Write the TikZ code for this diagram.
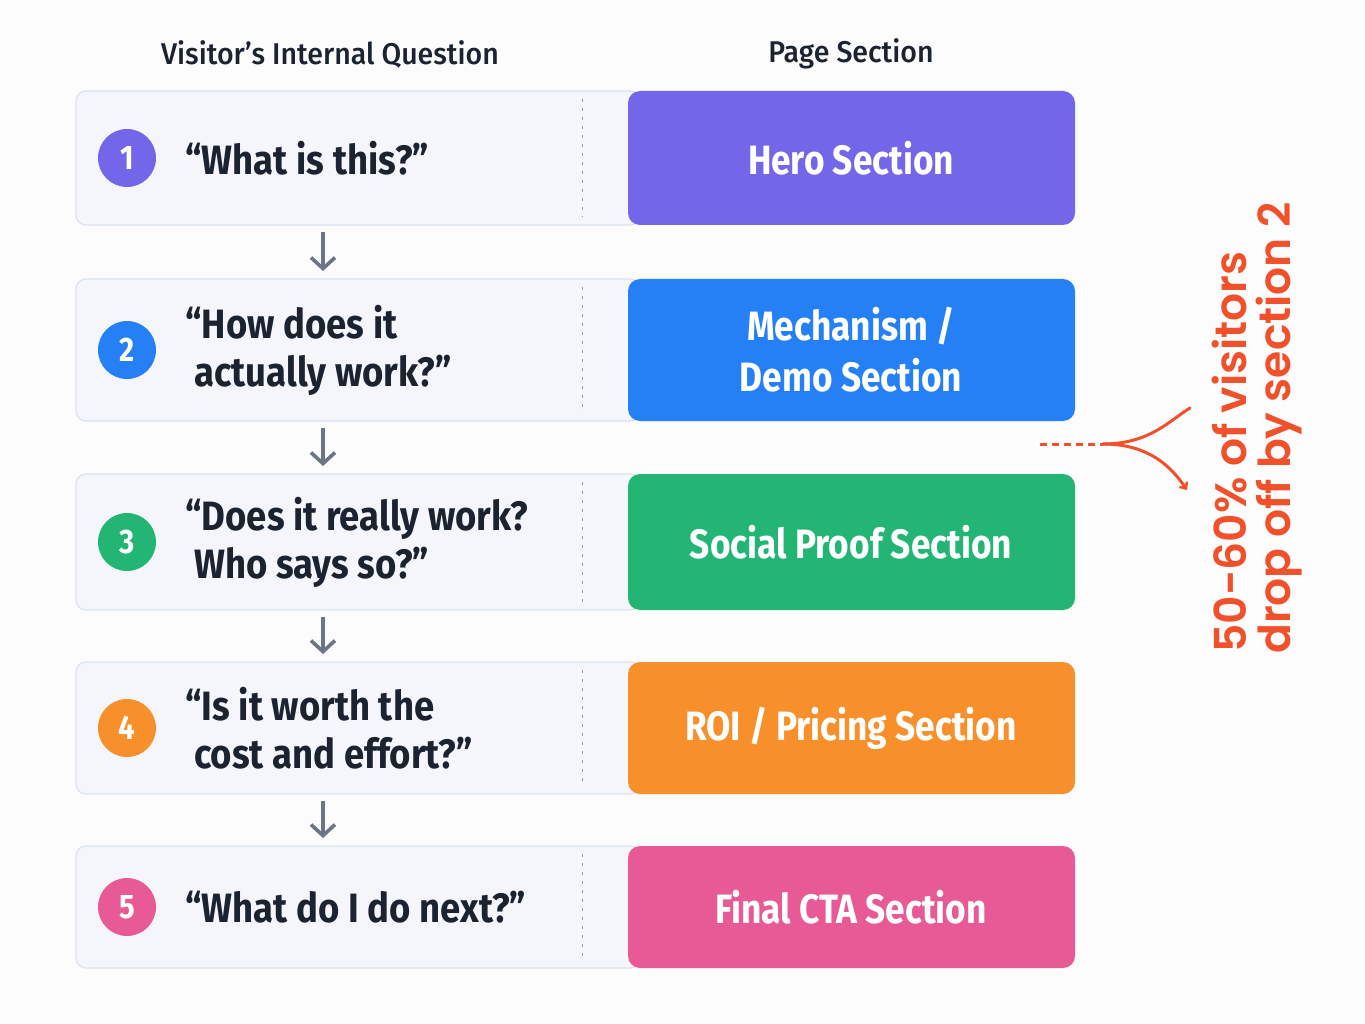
\documentclass[tikz,border=0pt]{standalone}
\usepackage{fontspec}
\setmainfont[FakeStretch=0.89]{Fira Sans}
\newfontfamily\secfont[FakeStretch=0.86]{Fira Sans}
\newfontfamily\notefont[BoldFont={Poppins SemiBold}]{Poppins}
\newfontfamily\headfont[FakeStretch=0.95,BoldFont={Fira Sans Medium}]{Fira Sans}
\usetikzlibrary{arrows.meta}
\definecolor{bgc}{HTML}{FCFCFD}
\definecolor{rowfill}{HTML}{F4F6FC}
\definecolor{rowline}{HTML}{DCE2EC}
\definecolor{ink}{HTML}{1B2230}
\definecolor{arrowc}{HTML}{6B7585}
\definecolor{cpurple}{HTML}{7366E8}
\definecolor{cblue}{HTML}{2680F5}
\definecolor{cgreen}{HTML}{23B573}
\definecolor{corange}{HTML}{F78F2A}
\definecolor{cpink}{HTML}{E75A96}
\definecolor{cred}{HTML}{F0502A}
\tikzset{
  rowbox/.style={draw=rowline, line width=1.2pt, fill=rowfill, rounded corners=10pt},
  secbox/.style={rounded corners=12pt},
  numc/.style={circle, minimum size=58pt, inner sep=0pt, text=white, font=\secfont\fontsize{34}{34}\selectfont\bfseries},
  qtext/.style={anchor=west, align=left, text=ink, font=\fontsize{41}{48}\selectfont\bfseries},
  stext/.style={align=center, text=white, font=\secfont\fontsize{41}{51}\selectfont\bfseries},
  flow/.style={draw=arrowc, line width=3.6pt, -{Straight Barb[length=11pt,width=24pt,line width=3.6pt]}},
  sep/.style={draw=arrowc!70, line width=1pt, dash pattern=on 3pt off 6pt},
  head/.style={text=ink, font=\headfont\fontsize{30}{30}\selectfont\bfseries},
  note/.style={rotate=90, text=cred, font=\notefont\fontsize{44}{44}\selectfont\bfseries}
}
\begin{document}
\begin{tikzpicture}[x=1pt,y=-1pt]
\fill[bgc] (0,0) rectangle (1365,1024);
\useasboundingbox (0,0) rectangle (1365,1024);

\node[head] (h1) at (330,54) {Visitor’s Internal Question};
\node[head] (h2) at (851,54) {Page Section};

% rows: top, bottom, colour, number, question, section
\foreach \i/\t/\b/\c/\q/\s in {
  1/91/225/cpurple/{“What is this?”}/{Hero Section},
  2/279/421/cblue/{“How does it\\\ actually work?”}/{Mechanism /\\Demo Section},
  3/474/610/cgreen/{“Does it really work?\\\ Who says so?”}/{Social Proof Section},
  4/662/794/corange/{“Is it worth the\\\ cost and effort?”}/{ROI / Pricing Section},
  5/846/968/cpink/{“What do I do next?”}/{Final CTA Section}}{
  \draw[rowbox] (76,\t) rectangle (640,\b);
  \draw[sep] (582,\t+8) -- (582,\b-8);
  \fill[\c, secbox] (628,\t) rectangle (1075,\b);
  \node[stext] (s\i) at (851,{(\t+\b)/2}) {\s};
  \node[numc, fill=\c] (n\i) at (127,{(\t+\b)/2}) {\i};
  \node[qtext] (q\i) at (182,{(\t+\b)/2}) {\q};
  \coordinate (top\i) at (323,\t);
  \coordinate (bot\i) at (323,\b);
}

\foreach \a/\b in {1/2,2/3,3/4,4/5}{
  \draw[flow] ([yshift=-7pt]bot\a) -- ([yshift=8pt]top\b);
}

% drop-off annotation
\coordinate (d0) at (1040,444);
\coordinate (d1) at (1103,444);
\coordinate (dup) at (1190,408);
\coordinate (ddn) at (1187,490);
\draw[cred, line width=3pt, dash pattern=on 7pt off 5pt] (d0) -- (d1);
\draw[cred, line width=3pt, line cap=round] (d1) .. controls (1150,444) and (1170,420) .. (dup);
\draw[cred, line width=3pt, line cap=round, -{Straight Barb[length=5pt,width=9pt,line width=2.5pt]}] (d1) .. controls (1150,444) and (1172,468) .. (ddn);
\node[note] (note1) at (1229,452) {50-60\% of visitors};
\node[note] (note2) at (1279,428) {drop off by section 2};
\end{tikzpicture}
\end{document}
